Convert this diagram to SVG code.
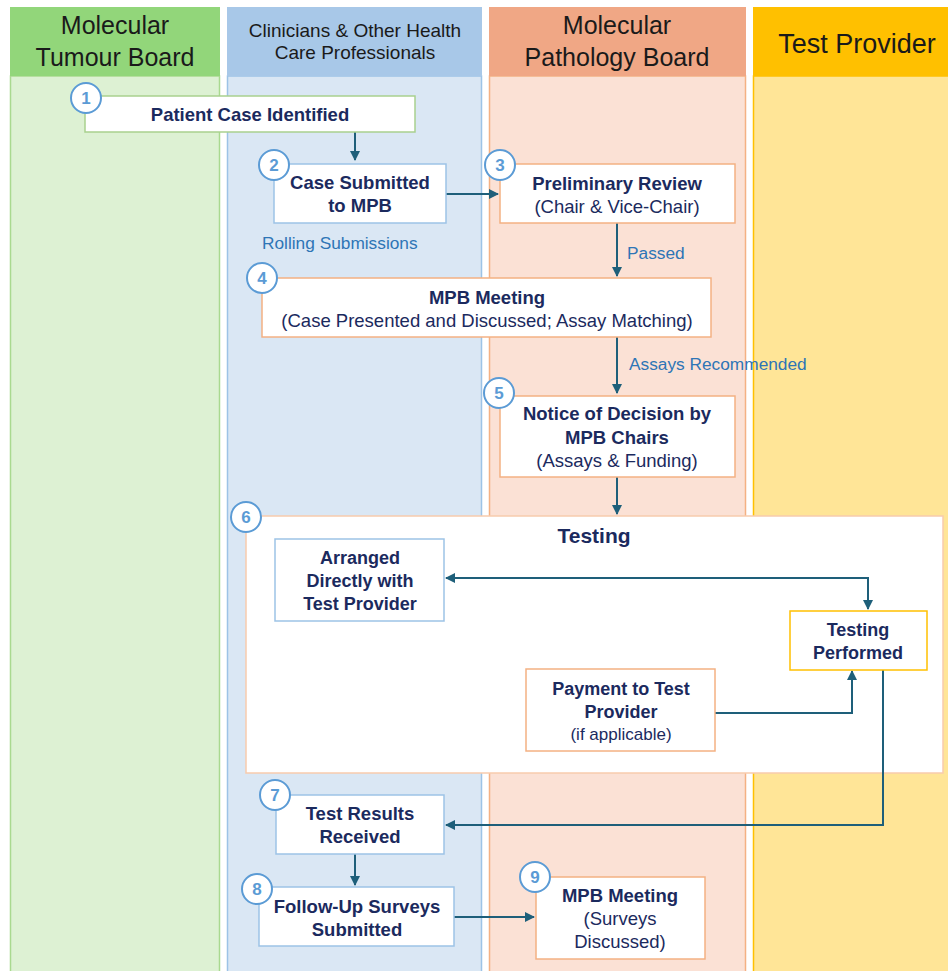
<svg xmlns="http://www.w3.org/2000/svg" width="948" height="971" viewBox="0 0 948 971">
<defs>
<style>
text{font-family:"Liberation Sans",Arial,sans-serif}
.hd{font-size:25px;fill:#1a1a1a;text-anchor:middle}
.hd2{font-size:19px;fill:#1a1a1a;text-anchor:middle}
.b{font-size:18.5px;font-weight:bold;fill:#1B2A5E;text-anchor:middle}
.r{font-size:18.5px;fill:#1B2A5E;text-anchor:middle}
.bc{font-size:18px;font-weight:bold;fill:#1B2A5E;text-anchor:middle}
.rc{font-size:17px;fill:#1B2A5E;text-anchor:middle}
.lbl{font-size:17.3px;fill:#2E75B6}
.num{font-size:17px;font-weight:bold;fill:#5B9BD5;text-anchor:middle}
.circ{fill:#fff;stroke:#5B9BD5;stroke-width:2}
.box{fill:#fff;stroke-width:1.5}
.g{stroke:#A9D18E}.bl{stroke:#9DC3E6}.o{stroke:#F4B183}.y{stroke:#FFC000}
.c{fill:none;stroke:#1E5F7A;stroke-width:2}
</style>
<marker id="ah" viewBox="0 0 10 10" refX="9" refY="5" markerWidth="5" markerHeight="5" orient="auto-start-reverse" markerUnits="strokeWidth">
<path d="M0,0 L10,5 L0,10 z" fill="#1E5F7A"/>
</marker>
</defs>
<rect width="948" height="971" fill="#fff"/>
<g id="lanes">
<g id="lane-mtb">
<rect x="10.5" y="76" width="209" height="900" fill="#DDF1D3" stroke="#A9D98F" stroke-width="1.5"/>
<rect x="10" y="7" width="210" height="69" fill="#92D67A"/>
<text class="hd" x="115" y="34">Molecular</text>
<text class="hd" x="115" y="66">Tumour Board</text>
</g>
<g id="lane-clin">
<rect x="227.5" y="76" width="254" height="900" fill="#DAE7F4" stroke="#9DC3E6" stroke-width="1.5"/>
<rect x="227" y="7" width="255" height="69" fill="#A8C8E8"/>
<text class="hd2" x="355" y="37">Clinicians &amp; Other Health</text>
<text class="hd2" x="355" y="59">Care Professionals</text>
</g>
<g id="lane-mpb">
<rect x="489.5" y="76" width="256" height="900" fill="#FBE1D5" stroke="#F4B183" stroke-width="1.5"/>
<rect x="489" y="7" width="257" height="69" fill="#F0A785"/>
<text class="hd" x="617" y="34">Molecular</text>
<text class="hd" x="617" y="66">Pathology Board</text>
</g>
<g id="lane-tp">
<rect x="753.5" y="76" width="200" height="900" fill="#FFE597" stroke="#FFC000" stroke-width="1.5"/>
<rect x="753" y="7" width="200" height="69" fill="#FFC000"/>
<text class="hd" x="857" y="53" style="font-size:27px">Test Provider</text>
</g>
</g>
<g id="n6">
<rect class="box" x="246" y="516" width="697" height="257" stroke="#F8CBAD"/>
<text x="594" y="543" style="font-size:21px;font-weight:bold;fill:#1B2A5E;text-anchor:middle">Testing</text>
<circle class="circ" cx="246" cy="517" r="15"/><text class="num" x="246" y="523">6</text>
</g>
<g id="connectors">
<path class="c" d="M355,132 V160" marker-end="url(#ah)"/>
<path class="c" d="M446,194 H498" marker-end="url(#ah)"/>
<path class="c" d="M617,223 V276" marker-end="url(#ah)"/>
<path class="c" d="M617,337 V393" marker-end="url(#ah)"/>
<path class="c" d="M617,477 V514" marker-end="url(#ah)"/>
<path class="c" d="M446,578 H868 V609" marker-start="url(#ah)" marker-end="url(#ah)"/>
<path class="c" d="M715,713 H852 V671" marker-end="url(#ah)"/>
<path class="c" d="M883,670 V825 H446" marker-end="url(#ah)"/>
<path class="c" d="M355,854 V885" marker-end="url(#ah)"/>
<path class="c" d="M454,917 H534" marker-end="url(#ah)"/>
<text class="lbl" x="262" y="249">Rolling Submissions</text>
<text class="lbl" x="627" y="259">Passed</text>
<text class="lbl" x="629" y="370">Assays Recommended</text>
</g>
<g id="n1">
<rect class="box g" x="85" y="96" width="330" height="36"/>
<text class="b" x="250" y="120.5">Patient Case Identified</text>
<circle class="circ" cx="86" cy="98" r="15"/><text class="num" x="86" y="104">1</text>
</g>
<g id="n2">
<rect class="box bl" x="274" y="164" width="172" height="59"/>
<text class="b" x="360" y="188.5">Case Submitted</text>
<text class="b" x="360" y="211.5">to MPB</text>
<circle class="circ" cx="274" cy="165" r="15"/><text class="num" x="274" y="171">2</text>
</g>
<g id="n3">
<rect class="box o" x="500" y="164" width="235" height="59"/>
<text class="b" x="617" y="189.5">Preliminary Review</text>
<text class="r" x="617" y="212.5">(Chair &amp; Vice-Chair)</text>
<circle class="circ" cx="500" cy="165" r="15"/><text class="num" x="500" y="171">3</text>
</g>
<g id="n4">
<rect class="box o" x="262" y="278" width="449" height="59"/>
<text class="b" x="487" y="303.5">MPB Meeting</text>
<text class="r" x="487" y="326.5">(Case Presented and Discussed; Assay Matching)</text>
<circle class="circ" cx="262" cy="278" r="15"/><text class="num" x="262" y="284">4</text>
</g>
<g id="n5">
<rect class="box o" x="500" y="396" width="235" height="81"/>
<text class="b" x="617" y="419.5">Notice of Decision by</text>
<text class="b" x="617" y="443.5">MPB Chairs</text>
<text class="r" x="617" y="466.5">(Assays &amp; Funding)</text>
<circle class="circ" cx="499" cy="393" r="15"/><text class="num" x="499" y="399">5</text>
</g>
<g id="n6a">
<rect class="box bl" x="275" y="539" width="169" height="82"/>
<text class="bc" x="360" y="563.5">Arranged</text>
<text class="bc" x="360" y="586.5">Directly with</text>
<text class="bc" x="360" y="609.5">Test Provider</text>
</g>
<g id="n6b">
<rect class="box y" x="790" y="611" width="137" height="59"/>
<text class="bc" x="858" y="635.5">Testing</text>
<text class="bc" x="858" y="658.5">Performed</text>
</g>
<g id="n6c">
<rect class="box o" x="526" y="669" width="189" height="82"/>
<text class="bc" x="621" y="694.5">Payment to Test</text>
<text class="bc" x="621" y="717.5">Provider</text>
<text class="rc" x="621" y="740">(if applicable)</text>
</g>
<g id="n7">
<rect class="box bl" x="276" y="795" width="168" height="59"/>
<text class="b" x="360" y="819.5">Test Results</text>
<text class="b" x="360" y="842.5">Received</text>
<circle class="circ" cx="275" cy="795" r="15"/><text class="num" x="275" y="801">7</text>
</g>
<g id="n8">
<rect class="box bl" x="259" y="887" width="195" height="59"/>
<text class="b" x="357" y="912.5">Follow-Up Surveys</text>
<text class="b" x="357" y="935.5">Submitted</text>
<circle class="circ" cx="257" cy="889" r="15"/><text class="num" x="257" y="895">8</text>
</g>
<g id="n9">
<rect class="box o" x="536" y="877" width="169" height="82"/>
<text class="b" x="620" y="901.5">MPB Meeting</text>
<text class="r" x="620" y="924.5">(Surveys</text>
<text class="r" x="620" y="947.5">Discussed)</text>
<circle class="circ" cx="535" cy="877" r="15"/><text class="num" x="535" y="883">9</text>
</g>
</svg>
